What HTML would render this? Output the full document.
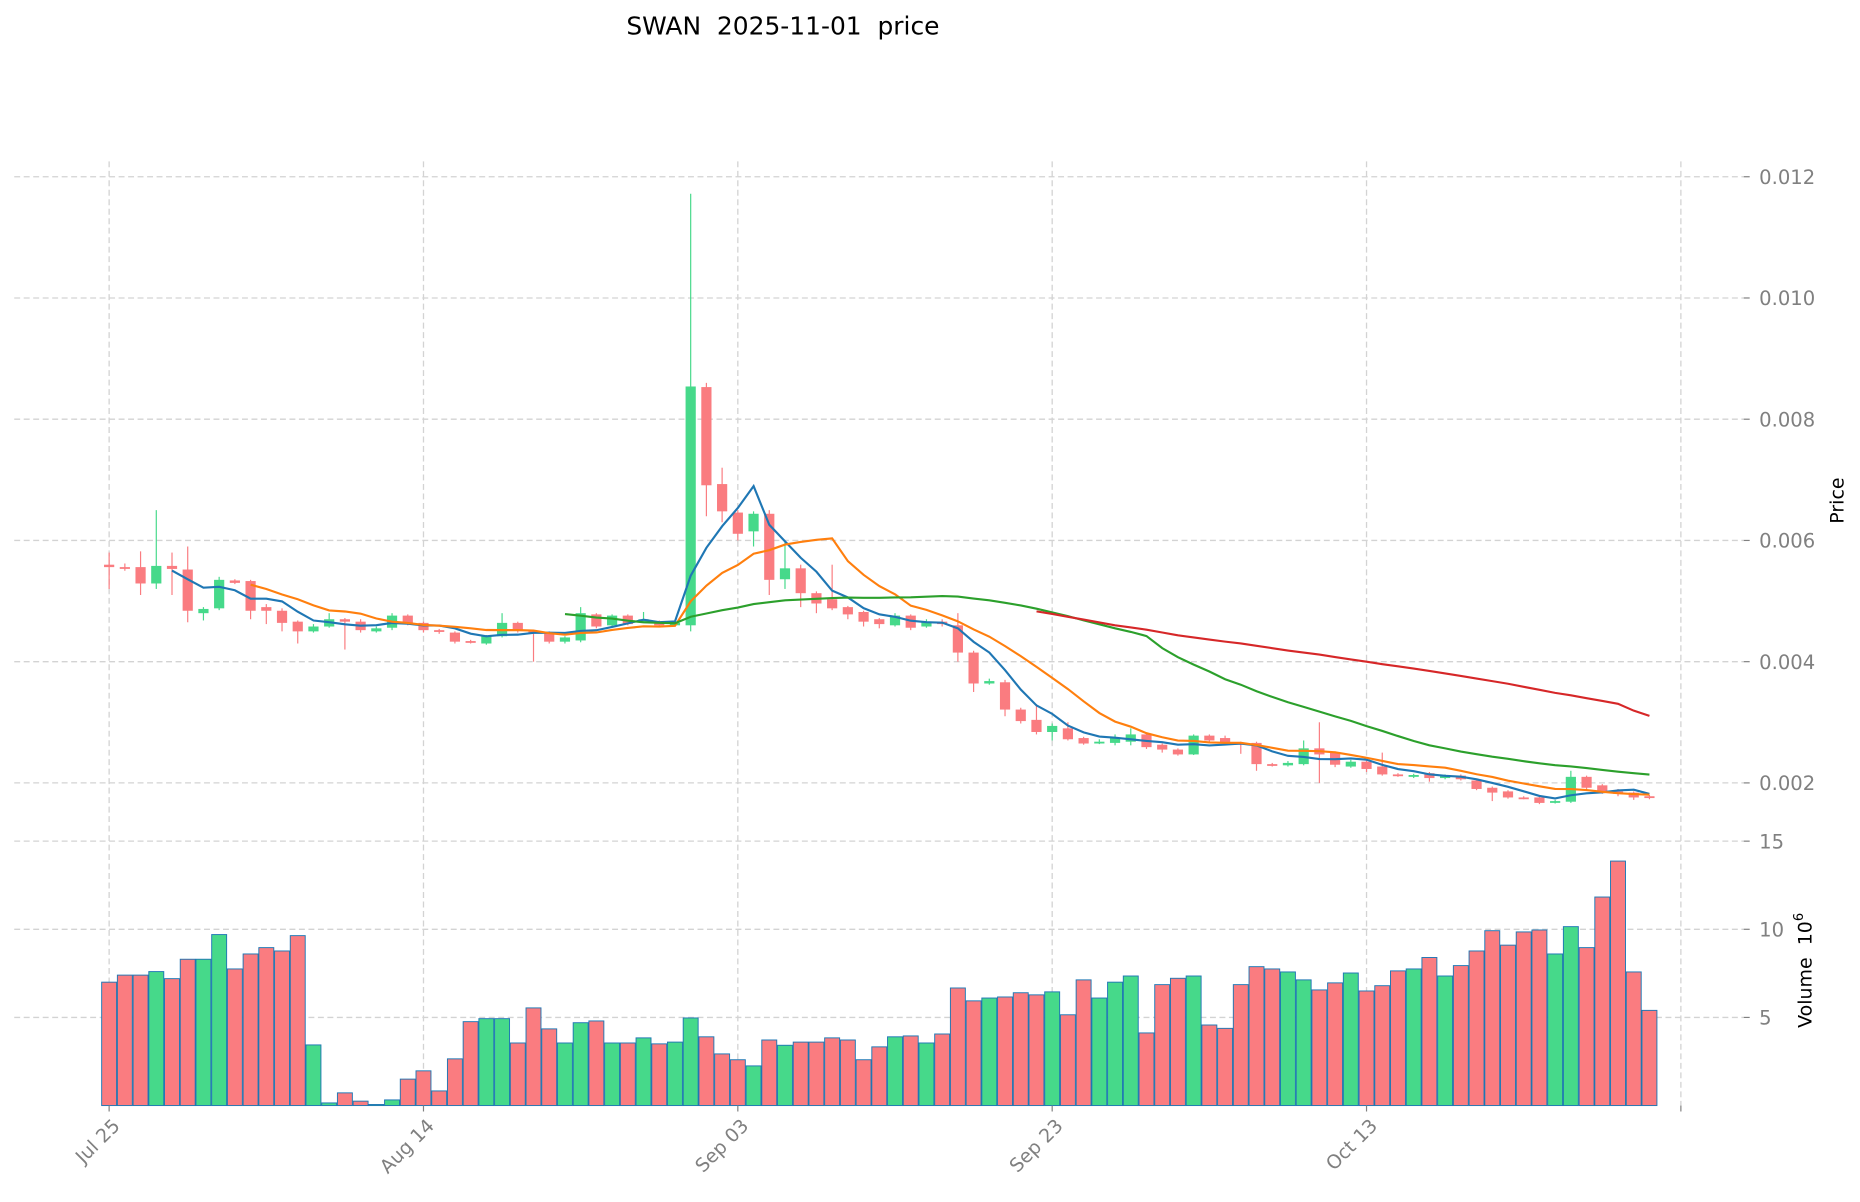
<!DOCTYPE html>
<html><head><meta charset="utf-8"><style>
html,body{margin:0;padding:0;background:#fff}
svg{display:block}
text{font-family:"DejaVu Sans","Liberation Sans",sans-serif}
</style></head><body>
<svg id="chart" width="1860" height="1202" viewBox="0 0 1568 1013.3" preserveAspectRatio="none" xmlns="http://www.w3.org/2000/svg">
<text x="660" y="29" font-size="21" text-anchor="middle" fill="#000" xml:space="preserve">SWAN  2025-11-01  price</text>
<g id="grid"></g><g id="vol"></g><g id="candles"></g><g id="mas"></g><g id="axes"></g>
<text x="1554" y="422" font-size="16" text-anchor="middle" transform="rotate(-90 1554 422)">Price</text>
<text x="1527" y="818" font-size="16" text-anchor="middle" transform="rotate(-90 1527 818)" xml:space="preserve">Volume  10<tspan font-size="11" dy="-7">6</tspan></text>
</svg>
<script>
const dates=["Jul 25","Aug 14","Sep 03","Sep 23","Oct 13",""];
const dateIdx=[0,20,40,60,80,100];
const priceTicks=[0.002,0.004,0.006,0.008,0.010,0.012];
const priceTickLabels=["0.002","0.004","0.006","0.008","0.010","0.012"];
const volTicks=[5,10,15];
const opens=[.00560,.00556,.00556,.00529,.00558,.00552,.00480,.00488,.00534,.00533,.00490,.00484,.00466,.00450,.00458,.00470,.00466,.00450,.00456,.00476,.00464,.00452,.00448,.00434,.00430,.00442,.00464,.00450,.00448,.00433,.00435,.00478,.00460,.00476,.00466,.00466,.00460,.00460,.00853,.00693,.00646,.00615,.00644,.00536,.00554,.00513,.00503,.00490,.00482,.00470,.00460,.00476,.00458,.00466,.00460,.00415,.00364,.00366,.00321,.00304,.00284,.00290,.00274,.00265,.00266,.00268,.00280,.00263,.00255,.00247,.00278,.00274,.00266,.00266,.00231,.00229,.00231,.00257,.00251,.00227,.00235,.00227,.00214,.00210,.00216,.00208,.00212,.00204,.00192,.00186,.00176,.00176,.00168,.00169,.00210,.00196,.00186,.00184,.00178];
const closes=[.00556,.00555,.00529,.00558,.00553,.00484,.00487,.00535,.00530,.00484,.00484,.00464,.00450,.00458,.00470,.00466,.00452,.00455,.00476,.00464,.00452,.00450,.00433,.00432,.00442,.00464,.00452,.00448,.00433,.00440,.00480,.00458,.00476,.00462,.00470,.00460,.00464,.00854,.00691,.00648,.00611,.00644,.00535,.00554,.00513,.00496,.00488,.00478,.00466,.00462,.00476,.00456,.00466,.00462,.00415,.00364,.00368,.00321,.00302,.00284,.00294,.00272,.00265,.00268,.00274,.00280,.00259,.00255,.00247,.00278,.00270,.00266,.00264,.00231,.00229,.00233,.00257,.00247,.00230,.00235,.00223,.00214,.00212,.00213,.00208,.00212,.00206,.00190,.00184,.00176,.00175,.00167,.00170,.00210,.00192,.00184,.00182,.00176,.00175];
const highs=[.00580,.00562,.00582,.00650,.00580,.00590,.00490,.00540,.00536,.00535,.00495,.00488,.00468,.00462,.00480,.00472,.00470,.00458,.00480,.00478,.00466,.00454,.00450,.00436,.00444,.00480,.00466,.00452,.00450,.00442,.00490,.00480,.00478,.00478,.00482,.00468,.00466,.01172,.00860,.00720,.00650,.00648,.00650,.00600,.00560,.00516,.00560,.00492,.00484,.00472,.00480,.00478,.00470,.00470,.00480,.00418,.00372,.00370,.00324,.00330,.00298,.00300,.00276,.00272,.00280,.00290,.00282,.00265,.00257,.00280,.00280,.00278,.00268,.00268,.00233,.00236,.00270,.00300,.00252,.00238,.00238,.00250,.00216,.00215,.00218,.00214,.00214,.00206,.00194,.00188,.00178,.00178,.00172,.00220,.00212,.00198,.00190,.00186,.00180];
const lows=[.00520,.00550,.00510,.00520,.00510,.00465,.00468,.00485,.00528,.00470,.00462,.00450,.00430,.00448,.00456,.00420,.00448,.00448,.00452,.00460,.00448,.00446,.00430,.00430,.00428,.00440,.00448,.00400,.00430,.00430,.00432,.00455,.00458,.00460,.00464,.00458,.00458,.00450,.00640,.00630,.00600,.00590,.00510,.00520,.00490,.00480,.00485,.00470,.00458,.00455,.00458,.00452,.00456,.00458,.00400,.00350,.00362,.00310,.00298,.00280,.00270,.00270,.00263,.00264,.00262,.00262,.00256,.00250,.00245,.00246,.00265,.00262,.00248,.00220,.00227,.00227,.00229,.00200,.00226,.00225,.00218,.00212,.00210,.00208,.00202,.00206,.00204,.00188,.00170,.00174,.00173,.00165,.00166,.00167,.00190,.00182,.00178,.00172,.00173];
const volumes=[7.0,7.4,7.4,7.6,7.2,8.3,8.3,9.7,7.75,8.6,8.96,8.77,9.64,3.44,0.15,0.72,0.25,0.06,0.32,1.5,1.97,0.83,2.65,4.76,4.93,4.93,3.55,5.54,4.35,3.55,4.7,4.8,3.55,3.55,3.84,3.5,3.6,4.97,3.9,2.93,2.6,2.25,3.72,3.42,3.6,3.6,3.84,3.72,2.6,3.33,3.9,3.95,3.55,4.06,6.67,5.94,6.1,6.16,6.4,6.28,6.45,5.15,7.13,6.1,7.0,7.35,4.12,6.86,7.22,7.35,4.57,4.38,6.86,7.88,7.75,7.58,7.13,6.56,6.96,7.52,6.5,6.8,7.64,7.75,8.4,7.35,7.94,8.77,9.92,9.1,9.85,9.96,8.6,10.15,8.96,11.83,13.87,7.58,5.4];
const maWindows=[5,10,30,60];
const maColors=["#1f77b4","#ff7f0e","#2ca02c","#d62728"];

const NS="http://www.w3.org/2000/svg";
const X=i=>92+i*13.25;
const YP=p=>660-(p-0.002)*51100;
const YV=v=>932-v*14.86;
function mk(tag,attrs,parent){const e=document.createElementNS(NS,tag);for(const k in attrs)e.setAttribute(k,attrs[k]);parent.appendChild(e);return e;}
const G=id=>document.getElementById(id);
const GREEN="#46d98a",RED="#fa7c80";

const grid=G("grid");
priceTicks.forEach(p=>{const l=mk("line",{x1:12,x2:1470,y1:YP(p),y2:YP(p),stroke:"#d3d3d3","stroke-dasharray":"5,3","stroke-width":1.1},grid);

});
volTicks.forEach(v=>{const l=mk("line",{x1:12,x2:1470,y1:YV(v),y2:YV(v),stroke:"#d3d3d3","stroke-dasharray":"5,3","stroke-width":1.1},grid);

});
dateIdx.forEach(i=>{const l=mk("line",{x1:X(i),x2:X(i),y1:136,y2:932,stroke:"#d3d3d3","stroke-dasharray":"5,3","stroke-width":1.1},grid);

});

const vg=G("vol");
volumes.forEach((v,i)=>{const up=closes[i]>=opens[i];
const r=mk("rect",{x:X(i)-6.3,y:YV(v),width:12.6,height:932-YV(v),fill:up?GREEN:RED,stroke:"#1f77b4","stroke-width":0.8},vg);

});

const cg=G("candles");
opens.forEach((o,i)=>{const c=closes[i],up=c>=o,col=up?GREEN:RED;
const w=mk("line",{x1:X(i),x2:X(i),y1:YP(highs[i]),y2:YP(lows[i]),stroke:col,"stroke-width":1},cg);


const top=YP(Math.max(o,c)),h=Math.max(1.5,Math.abs(YP(o)-YP(c)));
const b=mk("rect",{x:X(i)-4.3,y:top,width:8.6,height:h,fill:col},cg);

});

const mg=G("mas");
maWindows.forEach((n,k)=>{let pts=[];for(let i=n-1;i<closes.length;i++){let s=0;for(let j=i-n+1;j<=i;j++)s+=closes[j];pts.push(X(i).toFixed(1)+","+YP(s/n).toFixed(1));}
const pl=mk("polyline",{points:pts.join(" "),fill:"none",stroke:maColors[k],"stroke-width":1.8},mg);

});

const ag=G("axes");
priceTicks.forEach((p,i)=>{mk("line",{x1:1470,x2:1475,y1:YP(p),y2:YP(p),stroke:"#808080"},ag);
const t=mk("text",{x:1483,y:YP(p)+6,"font-size":16.5,fill:"#808080"},ag);t.textContent=priceTickLabels[i];

});
volTicks.forEach(v=>{mk("line",{x1:1470,x2:1475,y1:YV(v),y2:YV(v),stroke:"#808080"},ag);
const t=mk("text",{x:1483,y:YV(v)+6,"font-size":16.5,fill:"#808080"},ag);t.textContent=String(v);

});
dateIdx.forEach((i,k)=>{mk("line",{x1:X(i),x2:X(i),y1:932,y2:937,stroke:"#808080"},ag);
if(!dates[k])return;
const t=mk("text",{x:X(i)+10,y:950,"font-size":16,fill:"#808080","text-anchor":"end",transform:`rotate(-45 ${X(i)+10} 950)`},ag);t.textContent=dates[k];

});
</script>
</body></html>
